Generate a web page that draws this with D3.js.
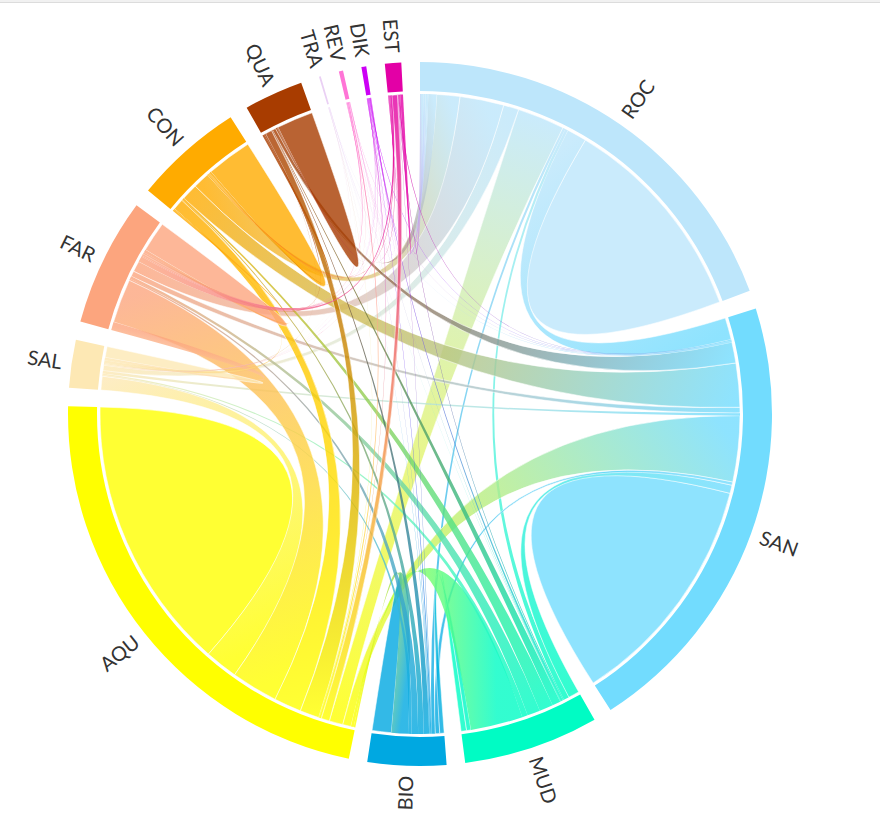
<!DOCTYPE html>
<html>
<head>
<meta charset="utf-8">
<script src="https://cdn.jsdelivr.net/npm/d3@7"></script>
<style>
  body { margin: 0; background: #fff; }
  svg { display: block; }
</style>
</head>
<body>
<div id="chart"></div>
<script>
// group names and colours, clockwise from the top
const names = ["ROC", "SAN", "MUD", "BIO", "AQU", "SAL", "FAR", "CON", "QUA", "TRA", "REV", "DIK", "EST"];
const colors = ["#bde6fb", "#72dcfe", "#00fcc4", "#00a8e1", "#ffff00", "#fde8b4", "#fca57e",
                "#ffab00", "#a83c00", "#ead0f4", "#ff74d6", "#cc00f5", "#e300a6"];

// flow matrix, one row per group (columns in the order of names)
const rowROC = [38.5, 3.6, 0.5, 0.5, 8.6, 2.8, 8.0, 4.2, 1.5, 0.2, 0.3, 0.4, 0.6];
const rowSAN = [4.0, 43.0, 1.5, 0.6, 12.0, 0.5, 1.0, 8.0, 3.8, 0.1, 0.1, 0.1, 0.2];
const rowMUD = [1.0, 2.0, 1.0, 0.8, 9.5, 1.0, 2.35, 2.5, 1.5, 0.05, 0.1, 0.4, 0.2];
const rowBIO = [0.6, 0.8, 0.8, 3.5, 3.0, 0.6, 1.2, 1.0, 1.0, 0.1, 0.1, 0.2, 0.1];
const rowAQU = [2.5, 1.5, 0.5, 0.3, 50.0, 6.0, 8.5, 5.0, 3.5, 0.1, 0.3, 0.1, 1.5];
const rowSAL = [1.0, 0.5, 0.3, 0.2, 2.5, 2.0, 0.5, 0.5, 0.2, 0.05, 0.05, 0.05, 0.05];
const rowFAR = [2.0, 1.0, 0.5, 0.3, 8.0, 1.5, 5.5, 0.5, 0.3, 0.1, 0.3, 0.2, 1.0];
const rowCON = [3.0, 3.0, 0.3, 0.2, 2.0, 0.2, 0.3, 8.3, 0.3, 0.1, 0.1, 0.1, 0.2];
const rowQUA = [0.3, 0.6, 0.1, 0.1, 1.2, 0.05, 0.2, 0.4, 6.65, 0.05, 0.05, 0.05, 0.05];
const rowTRA = [0.05, 0.03, 0.02, 0.01, 0.05, 0.01, 0.03, 0.03, 0.02, 0.02, 0.01, 0.01, 0.01];
const rowREV = [0.05, 0.05, 0.03, 0.02, 0.2, 0.02, 0.15, 0.05, 0.05, 0.01, 0.03, 0.02, 0.02];
const rowDIK = [0.15, 0.1, 0.1, 0.05, 0.1, 0.02, 0.05, 0.05, 0.05, 0.01, 0.02, 0.05, 0.05];
const rowEST = [0.2, 0.15, 0.1, 0.05, 1.0, 0.03, 0.3, 0.15, 0.1, 0.02, 0.05, 0.05, 0.5];
const matrix = [rowROC, rowSAN, rowMUD, rowBIO, rowAQU, rowSAL, rowFAR,
                rowCON, rowQUA, rowTRA, rowREV, rowDIK, rowEST];

const width = 880, height = 823;
const cx = 420, cy = 414;
const outerRadius = 352, innerRadius = 323, ribbonRadius = 320;
const padAngle = 0.0532;
const n = names.length;

const svg = d3.select("#chart").append("svg")
  .attr("width", width)
  .attr("height", height)
  .attr("viewBox", `0 0 ${width} ${height}`);

// thin grey strip along the top of the page
svg.append("rect").attr("x", 0).attr("y", 0).attr("width", width).attr("height", 2).attr("fill", "#f1f1f1");
svg.append("line").attr("x1", 0).attr("x2", width).attr("y1", 2.5).attr("y2", 2.5)
  .attr("stroke", "#dcdcdc").attr("stroke-width", 1);

// value -> angle
const total = d3.sum(matrix.flat());
const angle = d3.scaleLinear()
  .domain([0, total])
  .range([0, 2 * Math.PI - n * padAngle]);

// layout: each group lists its subgroups counter-clockwise neighbour first, self last
const subgroups = names.map(() => []);
const groups = [];
let pos = 0;
names.forEach((name, i) => {
  const start = pos;
  d3.range(1, n + 1).map(s => (i - s + n) % n).forEach(j => {
    const a0 = angle(pos);
    pos += matrix[i][j];
    subgroups[i][j] = { index: i, subindex: j, startAngle: a0, endAngle: angle(pos) };
  });
  groups.push({ index: i, name, startAngle: angle(start), endAngle: angle(pos) });
  pos += padAngle / angle(1);
});

const chords = [];
for (let i = 0; i < n; i++) {
  for (let j = i; j < n; j++) {
    chords.push({ source: subgroups[i][j], target: subgroups[j][i] });
  }
}

const defs = svg.append("defs");

const midPoint = (d, r) => {
  const a = (d.startAngle + d.endAngle) / 2 - Math.PI / 2;
  return [r * Math.cos(a), r * Math.sin(a)];
};
const span = d => (d.endAngle - d.startAngle) * ribbonRadius;

// gradient from source colour to target colour (ribbons live in the centred group)
chords.forEach((c, k) => {
  const [x1, y1] = midPoint(c.source, ribbonRadius);
  const [x2, y2] = midPoint(c.target, ribbonRadius);
  const grad = defs.append("linearGradient")
    .attr("id", `grad-${k}`)
    .attr("gradientUnits", "userSpaceOnUse")
    .attr("x1", x1).attr("y1", y1)
    .attr("x2", x2).attr("y2", y2);
  grad.append("stop").attr("offset", "0%").attr("stop-color", colors[c.source.index]);
  grad.append("stop").attr("offset", "100%").attr("stop-color", colors[c.target.index]);
});

const ribbon = d3.ribbon().radius(ribbonRadius);

svg.append("g")
  .attr("transform", `translate(${cx},${cy})`)
  .selectAll("path")
  .data(chords)
  .join("path")
  .attr("d", ribbon)
  .attr("fill", (d, k) => d.source.index === d.target.index ? colors[d.source.index] : `url(#grad-${k})`)
  .attr("fill-opacity", 0.8)
  .attr("stroke", d => Math.min(span(d.source), span(d.target)) > 3 ? "#fff" : "none")
  .attr("stroke-width", 0.6)
  .attr("stroke-opacity", 0.9);

const arc = d3.arc().innerRadius(innerRadius).outerRadius(outerRadius);

const group = svg.append("g")
  .attr("transform", `translate(${cx},${cy})`)
  .selectAll("g")
  .data(groups)
  .join("g");

group.append("path")
  .attr("d", arc)
  .attr("fill", d => colors[d.index]);

group.append("text")
  .each(d => { d.angle = (d.startAngle + d.endAngle) / 2; })
  .attr("dy", "0.35em")
  .attr("transform", d => `rotate(${d.angle * 180 / Math.PI - 90}) translate(${outerRadius + 10})${d.angle > Math.PI ? " rotate(180)" : ""}`)
  .attr("text-anchor", d => d.angle > Math.PI ? "end" : null)
  .attr("font-family", "Lato, sans-serif")
  .attr("font-size", 20)
  .attr("fill", "#333")
  .text(d => d.name);
</script>
</body>
</html>
